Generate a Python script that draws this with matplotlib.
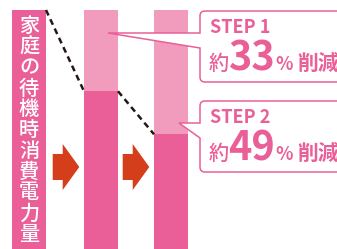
import matplotlib
matplotlib.use("Agg")
import matplotlib.pyplot as plt
from matplotlib.path import Path
from matplotlib.patches import PathPatch, Polygon

# ---- data ----
label_text = "家庭の待機時消費電力量"
steps = ["STEP 1", "STEP 2"]
remaining = [100, 66, 48]          # remaining standby power (% of original)
reductions = ["33", "49"]          # reduction % shown in callouts

DARK = "#ea5f98"
LIGHT = "#f19bbd"
ARROW = "#d53e1b"
LINE = "#231815"
CJK = ["Noto Sans CJK JP", "DejaVu Sans"]

W, H = 337, 249
fig = plt.figure(figsize=(W / 100, H / 100), dpi=100)

# main axes: x in pixel-like layout units, y in value units (0 at bottom, 100 at y=10px)
ax = fig.add_axes([0, 0, 1, 1])
scale = 2.39
ax.set_xlim(0, W)
ax.set_ylim(0, H / scale)
ax.axis("off")

xpos = [29, 101, 171]
bw = 34
ax.bar(xpos, remaining, width=bw, color=DARK, linewidth=0)
ax.bar(xpos, [100 - r for r in remaining], bottom=remaining, width=bw,
       color=LIGHT, linewidth=0)
for i in range(len(xpos) - 1):
    ax.plot([xpos[i] + bw / 2, xpos[i + 1] - bw / 2],
            [remaining[i], remaining[i + 1]],
            color=LINE, lw=1.8, dashes=(2.4, 1.7), solid_capstyle="butt",
            zorder=3)

# overlay axes in pixel coordinates for annotations
ov = fig.add_axes([0, 0, 1, 1])
ov.set_xlim(0, W)
ov.set_ylim(H, 0)
ov.axis("off")
ov.patch.set_alpha(0)

# vertical label
for i, ch in enumerate(label_text):
    ov.text(xpos[0], 26.5 + i * 20.8, ch, color="white", fontsize=14.5,
            family=CJK, fontweight="medium", ha="center", va="center")

# arrows between bars
for k in range(2):
    dx = k * 70
    pts = [(52.7, 154), (62.7, 154), (62.7, 144), (79.3, 167),
           (62.7, 190), (62.7, 180), (52.7, 180)]
    ov.add_patch(Polygon([(x + dx, y) for x, y in pts], closed=True,
                         color=ARROW, lw=0))


def callout(top, bottom, tip, wedge_top, wedge_bot, left=200, right=350, r=5):
    verts = [
        (left + r, top), (right, top), (right, bottom), (left + r, bottom),
        (left, bottom), (left, bottom - r),
        (left, wedge_bot), tip, (left, wedge_top),
        (left, top + r), (left, top), (left + r, top), (left + r, top),
    ]
    codes = [Path.MOVETO, Path.LINETO, Path.LINETO, Path.LINETO,
             Path.CURVE3, Path.CURVE3,
             Path.LINETO, Path.LINETO, Path.LINETO,
             Path.LINETO, Path.CURVE3, Path.CURVE3, Path.CLOSEPOLY]
    ov.add_patch(PathPatch(Path(verts, codes), facecolor="white",
                           edgecolor=DARK, lw=1.1, zorder=4))


boxes = [
    dict(top=11, bottom=82, tip=(108, 33), wt=33, wb=48),
    dict(top=101, bottom=172, tip=(179, 123), wt=123, wb=138),
]
for b, step, red in zip(boxes, steps, reductions):
    callout(b["top"], b["bottom"], b["tip"], b["wt"], b["wb"])
    t = b["top"]
    ov.text(210, t + 22, step, color=DARK, fontsize=13, fontweight="bold",
            family=CJK, ha="left", va="baseline", zorder=5)
    base = t + 59
    ov.text(209, base, "約", color=DARK, fontsize=14.5, family=CJK,
            fontweight="medium", ha="left", va="baseline", zorder=5)
    ov.text(228, base, red, color=DARK, fontsize=28.5, fontweight="bold",
            family=CJK, ha="left", va="baseline", zorder=5)
    ov.text(275, base, "%", color=DARK, fontsize=13, fontweight="bold",
            family=CJK, ha="left", va="baseline", zorder=5)
    ov.text(297, base, "削減", color=DARK, fontsize=15, fontweight="bold",
            family=CJK, ha="left", va="baseline", zorder=5)

fig.savefig("out.png", dpi=100)
